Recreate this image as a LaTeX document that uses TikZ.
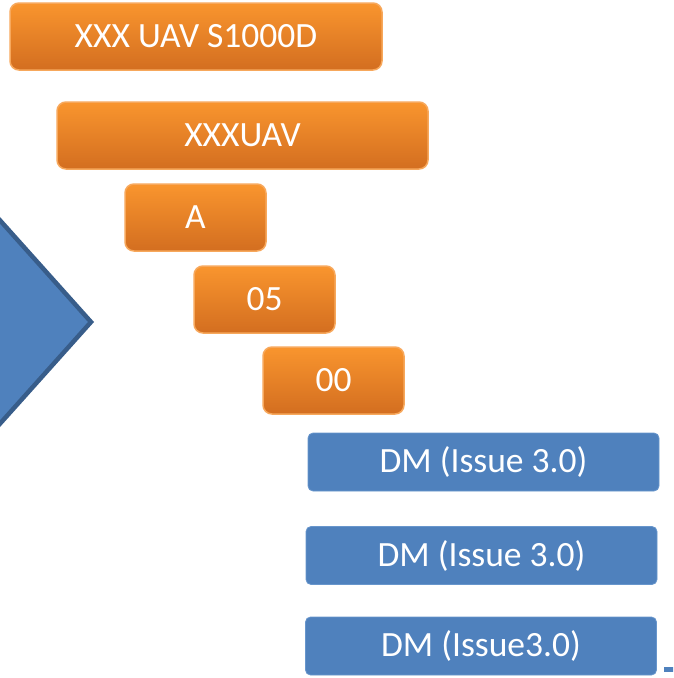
\documentclass[tikz,border=0pt]{standalone}
\usepackage{fontspec}
\setmainfont{Carlito}
\usepackage{tikz}
\usetikzlibrary{positioning, calc}

\definecolor{orangetop}{RGB}{249,149,46}
\definecolor{orangebot}{RGB}{211,110,32}
\definecolor{orangeline}{RGB}{247,168,92}
\definecolor{dmblue}{RGB}{79,129,189}
\definecolor{dmline}{RGB}{104,150,204}
\definecolor{arrowline}{RGB}{56,93,138}

\begin{document}
\begin{tikzpicture}[x=1pt, y=-1pt,
    codebox/.style={rectangle, rounded corners=9pt, draw=orangeline, line width=1.5pt,
        top color=orangetop, bottom color=orangebot, text=white, inner sep=0pt,
        minimum height=67pt, font=\fontsize{35.5}{42}\selectfont},
    dmbox/.style={rectangle, rounded corners=5pt, draw=dmline, line width=0.8pt,
        fill=dmblue, text=white, inner sep=0pt,
        minimum height=58pt, minimum width=351pt, font=\fontsize{35.5}{42}\selectfont}
    ]
    \useasboundingbox (0,0) rectangle (673,678);
    \clip (0,0) rectangle (673,678);

    % big arrow head on the left
    \draw[fill=dmblue, draw=arrowline, line width=4.5pt, line join=miter]
        (-20,198) -- (91,322) -- (-20,446) -- cycle;

    % code parts of the data module
    \node[codebox, minimum width=372pt] (model) at (196,36.5) {XXX UAV S1000D};
    \node[codebox, minimum width=371pt] (sys) at (242.5,135.5) {XXXUAV};
    \node[codebox, minimum width=141pt] (diff) at (195.5,217.5) {A};
    \node[codebox, minimum width=141pt] (subsys) at (264.5,299.5) {05};
    \node[codebox, minimum width=141pt] (subsub) at (333.5,380.5) {00};

    % issue boxes
    \node[dmbox] (dm1) at (483.5,462) {DM (Issue 3.0)};
    \node[dmbox] (dm2) at (481.5,555.5) {DM (Issue 3.0)};
    \node[dmbox] (dm3) at (481,646) {DM (Issue3.0)};

    % cut-off piece at the lower right
    \fill[dmblue] (664,667) rectangle (680,672);
\end{tikzpicture}
\end{document}
